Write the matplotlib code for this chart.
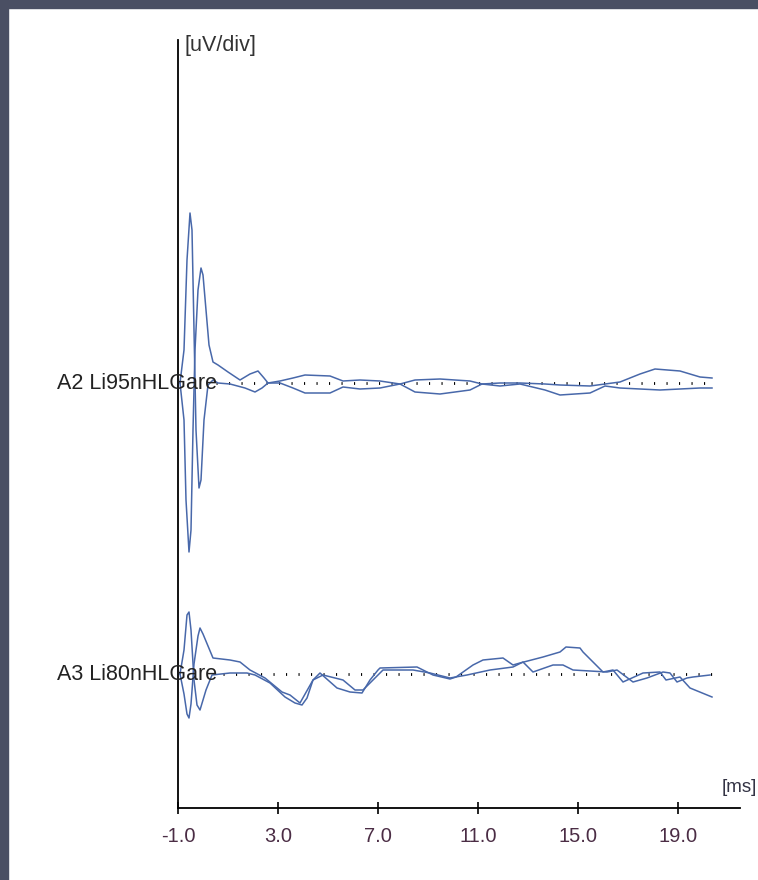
import matplotlib.pyplot as plt
from matplotlib.patches import Rectangle

plt.rcParams['font.family'] = ['Liberation Sans', 'DejaVu Sans']

# A2 channel, 95 nHL - two replicate sweeps (ms, uV)
a2_t1 = [-0.92, -0.76, -0.64, -0.52, -0.44, -0.36, -0.28, -0.16, -0.08, 0.04, 0.20, 0.40, 0.60,
         1.08, 1.68, 2.08, 2.36, 2.60, 3.08, 3.60, 4.08, 5.08, 5.60, 6.28, 7.08, 7.88, 8.48,
         9.48, 10.68, 11.16, 11.88, 12.68, 13.68, 14.28, 15.48, 16.08, 16.68, 18.28, 19.88, 20.36]
a2_v1 = [0.0, 0.66, 2.46, 3.40, 3.06, 1.06, -0.94, -2.10, -1.94, -0.74, -0.04, 0.06, 0.0,
         -0.02, -0.10, -0.18, -0.10, 0.0, 0.0, -0.10, -0.20, -0.20, -0.08, -0.12, -0.10, -0.02, -0.18,
         -0.22, -0.14, -0.02, -0.06, -0.02, -0.14, -0.24, -0.20, -0.06, -0.10, -0.14, -0.10, -0.10]
a2_t2 = [-0.92, -0.76, -0.68, -0.56, -0.48, -0.40, -0.32, -0.20, -0.08, 0.00, 0.12, 0.24, 0.40,
         0.60, 1.00, 1.48, 1.88, 2.20, 2.44, 2.60, 3.08, 3.60, 4.08, 5.08, 5.60, 6.28, 7.08, 7.88,
         8.48, 9.48, 10.68, 11.16, 11.88, 12.68, 13.68, 14.28, 15.48, 16.08, 16.68, 17.48, 18.08,
         19.08, 19.88, 20.36]
a2_v2 = [0.0, -0.74, -2.34, -3.38, -2.94, -0.94, 0.66, 1.86, 2.30, 2.16, 1.46, 0.76, 0.42,
         0.36, 0.22, 0.06, 0.18, 0.24, 0.10, 0.0, 0.04, 0.10, 0.16, 0.14, 0.04, 0.06, 0.04, -0.02,
         0.06, 0.08, 0.04, -0.02, 0.0, 0.0, -0.02, -0.04, -0.06, -0.02, 0.02, 0.18, 0.28,
         0.24, 0.12, 0.10]

# A3 channel, 80 nHL
a3_t1 = [-0.92, -0.76, -0.64, -0.56, -0.48, -0.36, -0.24, -0.12, 0.00, 0.12, 0.36, 1.08, 1.76,
         2.08, 2.68, 3.28, 3.68, 3.96, 4.16, 4.40, 4.80, 5.60, 6.08, 6.40, 6.80, 7.20, 8.40, 9.08,
         9.88, 10.56, 11.48, 12.40, 12.80, 13.20, 14.00, 14.40, 14.80, 16.16, 16.56, 17.20, 17.76,
         18.40, 18.68, 18.96, 19.36, 19.60, 20.28]
a3_v1 = [0.0, 0.48, 1.18, 1.24, 0.88, -0.12, -0.62, -0.72, -0.52, -0.32, -0.02, 0.02, 0.02,
         -0.02, -0.18, -0.46, -0.58, -0.62, -0.48, -0.12, -0.02, -0.12, -0.32, -0.32, -0.12, 0.08, 0.08, 0.02,
         -0.08, -0.02, 0.08, 0.14, 0.24, 0.04, 0.18, 0.18, 0.08, 0.04, 0.08, -0.16, -0.08,
         0.04, 0.02, -0.16, -0.08, -0.06, -0.02]
a3_t2 = [-0.92, -0.76, -0.64, -0.56, -0.48, -0.36, -0.20, -0.12, 0.00, 0.20, 0.40, 1.08, 1.48,
         1.88, 2.48, 3.16, 3.48, 3.88, 4.40, 4.68, 5.36, 5.88, 6.36, 6.68, 7.00, 7.08, 8.56, 9.20,
         9.88, 10.12, 10.80, 11.20, 12.00, 12.40, 12.68, 13.60, 14.28, 14.52, 15.08, 15.20, 16.00,
         16.40, 16.80, 17.60, 18.28, 18.52, 19.08, 19.48, 20.36]
a3_v2 = [0.0, -0.40, -0.80, -0.88, -0.60, 0.20, 0.76, 0.92, 0.80, 0.56, 0.32, 0.28, 0.24,
         0.08, -0.08, -0.36, -0.42, -0.58, -0.12, 0.02, -0.28, -0.36, -0.38, -0.12, 0.08, 0.12, 0.14, -0.02,
         -0.10, -0.06, 0.18, 0.28, 0.32, 0.18, 0.22, 0.34, 0.44, 0.54, 0.52, 0.44, 0.04,
         0.08, -0.16, 0.02, 0.04, -0.12, -0.06, -0.28, -0.46]

labels = ['A2 Li95nHLGare', 'A3 Li80nHLGare']
baselines = [8.5, 2.68]
sweeps = [[(a2_t1, a2_v1), (a2_t2, a2_v2)], [(a3_t1, a3_v1), (a3_t2, a3_v2)]]
dot_start = [0.5, 0.8]
x_ticks = [-1.0, 3.0, 7.0, 11.0, 15.0, 19.0]

fig = plt.figure(figsize=(7.58, 8.8), dpi=100)
ax = fig.add_axes([178 / 758, 72 / 880, 562 / 758, 768 / 880])
ax.set_xlim(-1.0, 21.48)
ax.set_ylim(0, 15.36)

for lab, base, pair, x0 in zip(labels, baselines, sweeps, dot_start):
    ax.hlines(base, x0, 20.36, colors='black', linestyles=(0, (0.4, 4.1)), lw=2.0)
    for t, v in pair:
        ax.plot(t, [base + a for a in v], color='#4868aa', lw=1.1)
    ax.text(-5.84, base, lab, ha='left', va='center', fontsize=15.5,
            color='#222222', clip_on=False)

for side in ['top', 'right']:
    ax.spines[side].set_visible(False)
for side in ['left', 'bottom']:
    ax.spines[side].set_linewidth(1.3)
ax.set_yticks([])
ax.set_xticks(x_ticks)
ax.set_xticklabels(['%.1f' % x for x in x_ticks])
ax.tick_params(axis='x', direction='inout', length=9, width=1.2, pad=9,
               labelsize=14.5, labelcolor='#4b2d45')

fig.text(185 / 758, 1 - 45 / 880, '[uV/div]', va='center', fontsize=15.5, color='#333333')
fig.text(722 / 758, 1 - 787 / 880, '[ms]', va='center', fontsize=13.5, color='#333344')

# window frame
frame = '#4a4f63'
fig.add_artist(Rectangle((0, 0), 8 / 758, 1, transform=fig.transFigure, color=frame))
fig.add_artist(Rectangle((0, 1 - 8 / 880), 1, 8 / 880, transform=fig.transFigure, color=frame))

fig.savefig('out.png', dpi=100)
